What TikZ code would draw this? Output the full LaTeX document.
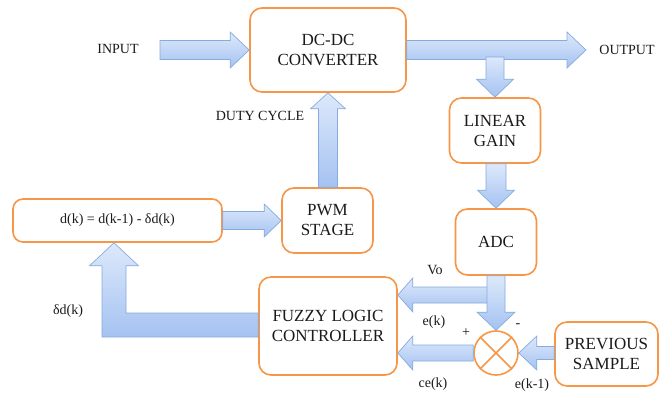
\documentclass[tikz,border=0pt]{standalone}
\usepackage{fontspec}
\setmainfont{Liberation Serif}
\usetikzlibrary{calc}
\definecolor{boxorange}{HTML}{F79646}
\definecolor{arrtop}{HTML}{DDE9FB}
\definecolor{arrbot}{HTML}{A5C2F1}
\definecolor{arredge}{HTML}{86ABDF}
\definecolor{txt}{HTML}{1A1A1A}
% block arrows: #1 tail, #2 tip, #3 shaft half width, #4 head half width, #5 head length
\newcommand\arrR[5]{\path[blk] let \p1=(#1), \p2=(#2) in
  (\x1,\y2+#3) -- (\x2-#5,\y2+#3) -- (\x2-#5,\y2+#4) -- (\x2,\y2) -- (\x2-#5,\y2-#4) -- (\x2-#5,\y2-#3) -- (\x1,\y2-#3) -- cycle;}
\newcommand\arrL[5]{\path[blk] let \p1=(#1), \p2=(#2) in
  (\x1,\y2+#3) -- (\x2+#5,\y2+#3) -- (\x2+#5,\y2+#4) -- (\x2,\y2) -- (\x2+#5,\y2-#4) -- (\x2+#5,\y2-#3) -- (\x1,\y2-#3) -- cycle;}
\newcommand\arrU[5]{\path[blk] let \p1=(#1), \p2=(#2) in
  (\x2+#3,\y1) -- (\x2+#3,\y2-#5) -- (\x2+#4,\y2-#5) -- (\x2,\y2) -- (\x2-#4,\y2-#5) -- (\x2-#3,\y2-#5) -- (\x2-#3,\y1) -- cycle;}
\newcommand\arrD[5]{\path[blk] let \p1=(#1), \p2=(#2) in
  (\x2+#3,\y1) -- (\x2+#3,\y2+#5) -- (\x2+#4,\y2+#5) -- (\x2,\y2) -- (\x2-#4,\y2+#5) -- (\x2-#3,\y2+#5) -- (\x2-#3,\y1) -- cycle;}
\begin{document}
\begin{tikzpicture}[x=1pt,y=-1pt,
  blk/.style={draw=arredge, line width=0.7pt, top color=arrtop, bottom color=arrbot},
  box/.style={draw=boxorange, line width=1.6pt, rounded corners=12pt, fill=white, align=center,
    font=\fontsize{17}{20}\selectfont, text=txt, inner sep=0pt},
  lbl/.style={font=\fontsize{14}{16}\selectfont, text=txt, inner sep=0pt}]
\fill[white] (0,0) rectangle (661,392);
\useasboundingbox (0,0) rectangle (661,392);

% blocks
\node[box, minimum width=156pt, minimum height=84pt] (dc) at (328,50) {DC-DC\\CONVERTER};
\node[box, minimum width=91pt, minimum height=65pt] (lin) at (495,130.5) {LINEAR\\GAIN};
\node[box, minimum width=81pt, minimum height=66pt] (adc) at (496,242) {ADC};
\node[box, minimum width=91pt, minimum height=65pt] (pwm) at (327.5,220.5) {PWM\\STAGE};
\node[box, rounded corners=10pt, minimum width=209pt, minimum height=43pt, font=\fontsize{14}{16}\selectfont] (dbox) at (117.5,220.5) {d(k) = d(k-1) - δd(k)};
\node[box, minimum width=138pt, minimum height=98pt] (flc) at (328,326) {FUZZY LOGIC\\CONTROLLER};
\node[box, minimum width=103pt, minimum height=64pt] (prev) at (606.5,354) {PREVIOUS\\SAMPLE};
\node[draw=boxorange, line width=1.6pt, circle, minimum size=44pt, inner sep=0pt, fill=white] (sum) at (496,353) {};
\draw[boxorange, line width=1.6pt] (sum.north west) -- (sum.south east) (sum.north east) -- (sum.south west);

% free ends / junctions
\coordinate (intail) at (160,50);
\coordinate (outtip) at (586,50);
\coordinate (tap1) at (496,57);
\coordinate (tap2) at (496,295);
\coordinate (bend) at (114,325);

% block arrows
\arrR{intail}{dc.west}{9.5pt}{18pt}{19pt}
\arrR{dc.east}{outtip}{9.5pt}{18pt}{19pt}
\arrD{tap1}{lin.north}{9pt}{18.5pt}{18pt}
\arrD{lin.south}{adc.north}{10pt}{18.5pt}{18pt}
\arrL{tap2}{flc.east |- tap2}{8pt}{17pt}{15pt}
\arrD{adc.south}{sum.north}{9pt}{19pt}{18pt}
\arrL{sum.west}{flc.east |- sum.west}{8pt}{17pt}{15pt}
\arrL{prev.west}{sum.east}{6.5pt}{17pt}{18pt}
\arrR{dbox.east}{pwm.west}{9pt}{16.5pt}{17pt}
\arrU{pwm.north}{dc.south}{9.5pt}{17.5pt}{16pt}
\path[blk] let \p1=(flc.west), \p2=(bend), \p3=(dbox.south -| bend) in
  (\x1,\y2+12pt) -- (\x2+12pt,\y2+12pt) -- (\x2+12pt,\y3-23pt) -- (\x2+24.5pt,\y3-23pt) -- (\x2,\y3)
  -- (\x2-24.5pt,\y3-23pt) -- (\x2-12pt,\y3-23pt) -- (\x2-12pt,\y2-12pt) -- (\x1,\y2-12pt) -- cycle;

% labels
\node[lbl] (tin) at (118,49) {INPUT};
\node[lbl] (tout) at (627,50) {OUTPUT};
\node[lbl] (tduty) at (260,116) {DUTY CYCLE};
\node[lbl] (tdd) at (68,311) {δd(k)};
\node[lbl] (tvo) at (435,270) {Vo};
\node[lbl] (tek) at (434,322) {e(k)};
\node[lbl] (tplus) at (466,333) {+};
\node[lbl] (tminus) at (518,326) {-};
\node[lbl] (tce) at (433,384) {ce(k)};
\node[lbl] (tek1) at (532,385) {e(k-1)};
\end{tikzpicture}
\end{document}
